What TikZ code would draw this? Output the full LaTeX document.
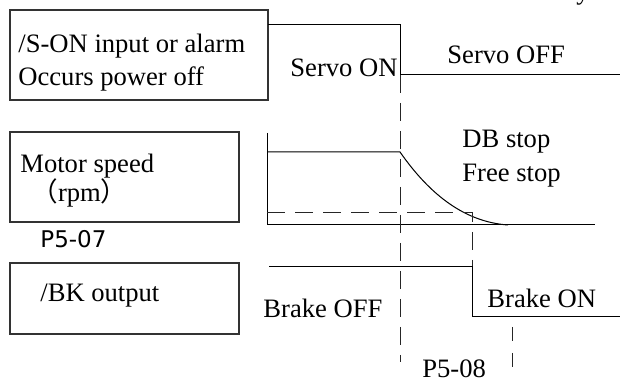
\documentclass[tikz,border=0pt]{standalone}
\usepackage{fontspec}
\setmainfont{Liberation Serif}
\newfontfamily\cjk{Noto Sans CJK SC}
\newfontfamily\sansp{DejaVu Sans}
\begin{document}
\begin{tikzpicture}[x=0.5pt,y=-0.5pt,
  lbl/.style={inner sep=0pt,anchor=base west,font=\fontsize{13.3}{16}\selectfont},
  box/.style={draw=black!80,line width=0.6pt,inner sep=0pt},
  sig/.style={line width=0.5pt},
  dsh/.style={line width=0.5pt,dash pattern=on 9pt off 5pt,black!85}]
\useasboundingbox (0,0) rectangle (620,383);
% boxes
\node[box,minimum width=129pt,minimum height=45pt] (b1) at (139,55) {};
\node[box,minimum width=114.5pt,minimum height=45pt] (b2) at (124.5,177) {};
\node[box,minimum width=114.5pt,minimum height=35.5pt] (b3) at (124.5,298.5) {};
% box texts
\node[lbl] (t1) at (18,53) {/S-ON input or alarm};
\node[lbl] (t2) at (18,86) {Occurs power off};
\node[lbl] (t3) at (20,173) {Motor speed};
\node[lbl] (t4) at (31,202) {{\cjk （}rpm{\cjk ）}};
\node[lbl,font=\sansp\fontsize{11.5}{14}\selectfont] (t5) at (40,248) {P5-07};
\node[lbl] (t6) at (40,302) {/BK output};
% cut-off text at top
\node[lbl,anchor=base] (ty) at (583,0) {y};
% signal 1
\draw[sig] (268,25) -- (400,25) -- (400,75) -- (620,75);
\node[lbl] (son) at (290,77) {Servo ON};
\node[lbl] (soff) at (447,64) {Servo OFF};
% signal 2
\draw[sig] (267,133) -- (267,225) -- (595,225);
\draw[sig] (267,152) -- (400,152) .. controls (430,195) and (465,222) .. (508,225);
\draw[dsh] (267,213) -- (472,213) -- (472,267);
\node[lbl] (db) at (462,148) {DB stop};
\node[lbl] (fs) at (462,182) {Free stop};
% signal 3
\draw[sig] (269,267) -- (472,267) -- (472,317) -- (620,317);
\node[lbl] (boff) at (263,318) {Brake OFF};
\node[lbl] (bon) at (487,308) {Brake ON};
% dashed markers
\draw[dsh] (400,75) -- (400,362);
\draw[dsh,dash pattern=on 7pt off 6pt] (512,327) -- (512,367);
\node[lbl] (p508) at (422,378) {P5-08};
\end{tikzpicture}
\end{document}
